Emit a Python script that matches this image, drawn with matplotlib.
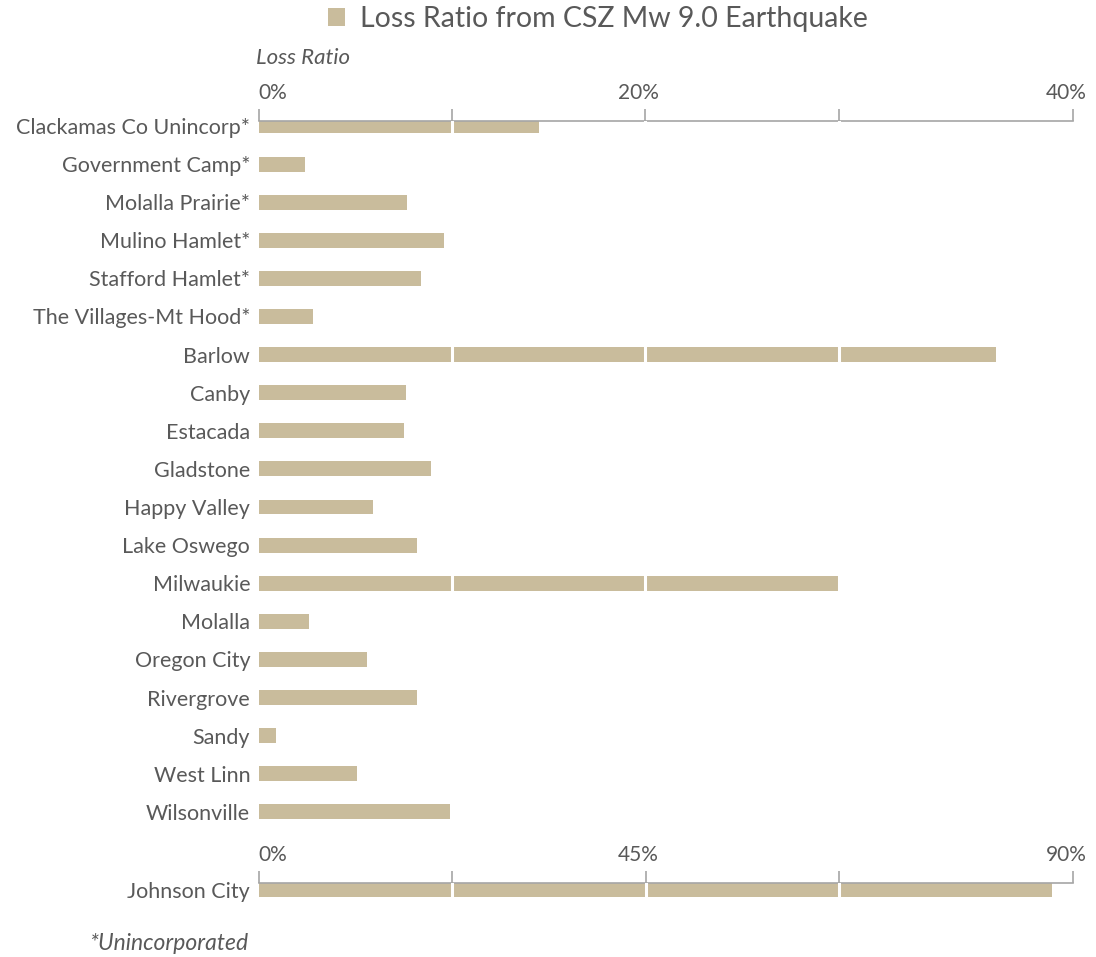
import matplotlib.pyplot as plt
import matplotlib.transforms as mtransforms
from matplotlib.patches import Patch
from matplotlib.ticker import FixedLocator, FixedFormatter

# ---------------------
# DATA
# ---------------------
places = [
    "Clackamas Co Unincorp*", "Government Camp*", "Molalla Prairie*", "Mulino Hamlet*",
    "Stafford Hamlet*", "The Villages-Mt Hood*", "Barlow", "Canby", "Estacada",
    "Gladstone", "Happy Valley", "Lake Oswego", "Milwaukie", "Molalla", "Oregon City",
    "Rivergrove", "Sandy", "West Linn", "Wilsonville",
]
loss_ratio = [
    0.145, 0.024, 0.077, 0.096, 0.084, 0.028, 0.381, 0.076, 0.075,
    0.089, 0.059, 0.082, 0.300, 0.026, 0.056, 0.082, 0.009, 0.051, 0.099,
]
johnson_label = ["Johnson City"]
johnson_ratio = [0.923]

top_ticks = [0.0, 0.1, 0.2, 0.3, 0.421]
top_tick_labels = ["0%", "", "20%", "", "40%"]
bottom_ticks = [0.0, 0.225, 0.45, 0.675, 0.947]
bottom_tick_labels = ["0%", "", "45%", "", "90%"]

BAR_COLOR = "#C9BC9C"
TEXT_COLOR = "#595959"
AXIS_COLOR = "#A6A6A6"
FONT = ["Lato", "DejaVu Sans"]

plt.rcParams["font.family"] = FONT


def style_axis(fig, ax, ticks, labels, xmax):
    ax.set_xlim(0, xmax)
    ax.xaxis.set_ticks_position("top")
    ax.xaxis.set_major_locator(FixedLocator(ticks))
    ax.xaxis.set_major_formatter(FixedFormatter(labels))
    ax.tick_params(axis="x", direction="out", length=9, width=1.2, color=AXIS_COLOR,
                   labelsize=15, labelcolor=TEXT_COLOR, pad=4)
    ax.tick_params(axis="y", length=0, labelsize=15.5, labelcolor=TEXT_COLOR, pad=6)
    for side in ["left", "right", "bottom"]:
        ax.spines[side].set_visible(False)
    ax.spines["top"].set_color(AXIS_COLOR)
    ax.spines["top"].set_linewidth(1.2)
    # white separators over the bars
    for t in ticks[1:-1]:
        ax.axvline(t, color="white", lw=2.2, zorder=3)

    # label placement: first starts at the tick, others sit a little left of it
    shift = mtransforms.ScaledTranslation(-7 / 100, 0, fig.dpi_scale_trans)
    for i, tick in enumerate(ax.xaxis.get_major_ticks()):
        lbl = tick.label2
        if i == 0:
            lbl.set_ha("left")
        else:
            lbl.set_ha("center")
            lbl.set_transform(lbl.get_transform() + shift)


def main():
    fig = plt.figure(figsize=(10.96, 9.57), dpi=100)
    row_px = 38.1
    left = 258.5 / 1096
    width = (1073 - 258.5) / 1096

    # top panel
    n = len(places)
    top_px = 121
    bot_px = 126 + (n - 1) * row_px + 0.5 * row_px
    ax = fig.add_axes([left, 1 - bot_px / 957, width, (bot_px - top_px) / 957])
    ax.barh(range(n), loss_ratio, height=0.39, color=BAR_COLOR, zorder=2)
    ax.set_yticks(range(n))
    ax.set_yticklabels(places)
    ax.set_ylim(n - 0.5, -(126 - top_px) / row_px)
    style_axis(fig, ax, top_ticks, top_tick_labels, top_ticks[-1])

    # Johnson City panel
    jc_center = 890
    jtop = 883
    jbot = jc_center + 0.5 * row_px
    ax2 = fig.add_axes([left, 1 - jbot / 957, width, (jbot - jtop) / 957])
    ax2.barh([0], johnson_ratio, height=0.39, color=BAR_COLOR, zorder=2)
    ax2.set_yticks([0])
    ax2.set_yticklabels(johnson_label)
    ax2.set_ylim(0.5, -(jc_center - jtop) / row_px)
    style_axis(fig, ax2, bottom_ticks, bottom_tick_labels, bottom_ticks[-1])

    fig.text(256 / 1096, 1 - 58 / 957, "Loss Ratio", style="italic", fontsize=16,
             color=TEXT_COLOR, ha="left", va="center")
    fig.text(248 / 1096, 1 - 944 / 957, "*Unincorporated", style="italic", fontsize=16.5,
             color=TEXT_COLOR, ha="right", va="center")

    handle = Patch(facecolor=BAR_COLOR, edgecolor="none")
    fig.legend([handle], ["Loss Ratio from CSZ Mw 9.0 Earthquake"], loc="center",
               bbox_to_anchor=(598 / 1096, 1 - 19 / 957), frameon=False, fontsize=20.5,
               labelcolor=TEXT_COLOR, handlelength=0.6, handleheight=0.6, handletextpad=0.5)

    fig.savefig("out.png", dpi=100)
    plt.close(fig)


if __name__ == "__main__":
    main()
